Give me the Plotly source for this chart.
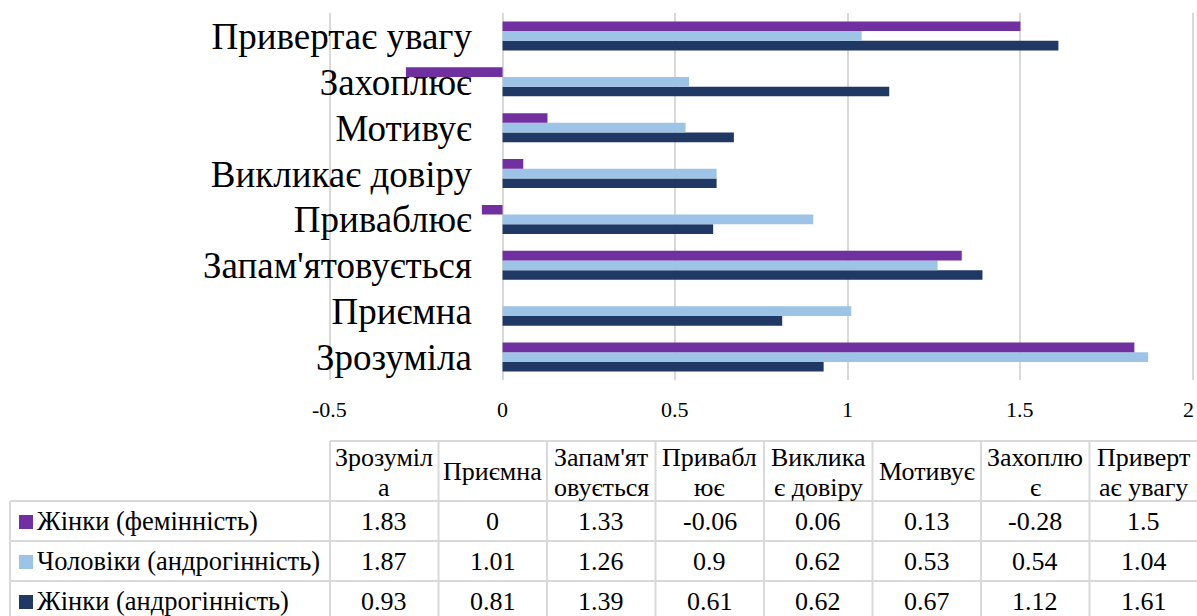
import plotly.graph_objects as go

# Categories, bottom to top on the chart (also the table's column order)
categories = ["Зрозуміла", "Приємна", "Запам'ятовується", "Приваблює",
              "Викликає довіру", "Мотивує", "Захоплює", "Привертає увагу"]
# Wrapped header texts for the data table
header_labels = ["Зрозуміл<br>а", "Приємна", "Запам'ят<br>овується", "Привабл<br>ює",
                 "Виклика<br>є довіру", "Мотивує", "Захоплю<br>є", "Приверт<br>ає увагу"]

women_fem = [1.83, 0, 1.33, -0.06, 0.06, 0.13, -0.28, 1.5]
men_andro = [1.87, 1.01, 1.26, 0.9, 0.62, 0.53, 0.54, 1.04]
women_andro = [0.93, 0.81, 1.39, 0.61, 0.62, 0.67, 1.12, 1.61]

series_names = ["Жінки (фемінність)", "Чоловіки (андрогінність)", "Жінки (андрогінність)"]
series_values = [women_fem, men_andro, women_andro]
series_colors = ["#7030A0", "#9DC3E6", "#203864"]

x_ticks = [-0.5, 0, 0.5, 1, 1.5, 2]
x_ticktext = ["-0.5", "0", "0.5", "1", "1.5", "2"]

W, H = 1197, 616
SERIF = "Liberation Serif"
GRID = "#D9D9D9"


def px(x):
    return x / W


def py(y):
    return 1 - y / H


fig = go.Figure()
# Plotly stacks horizontal groups bottom-up, so add the series in reverse
for name, vals, col in reversed(list(zip(series_names, series_values, series_colors))):
    fig.add_trace(go.Bar(
        y=categories, x=vals, name=name, orientation="h",
        marker=dict(color=col, line=dict(width=0)),
        showlegend=False,
    ))

# a small pad on both ends keeps the -0.5 and 2 gridlines visible
fig.update_layout(
    width=W, height=H,
    margin=dict(l=0, r=0, t=0, b=0, autoexpand=False),
    paper_bgcolor="white", plot_bgcolor="white",
    font=dict(family=SERIF),
    barmode="group", bargap=0.37, bargroupgap=0,
    xaxis=dict(
        domain=[px(326.5), px(1196.5)], range=[-0.51, 2.01],
        tickvals=x_ticks, showticklabels=False,
        showgrid=True, gridcolor=GRID, gridwidth=2,
        zeroline=False, showline=False, ticks="",
        automargin=False, fixedrange=True,
    ),
    yaxis=dict(
        domain=[py(380), py(13)],
        categoryorder="array", categoryarray=categories,
        anchor="free", position=px(472),
        showgrid=False, zeroline=False, showline=False, ticks="",
        tickfont=dict(family=SERIF, size=37, color="black"),
        automargin=False, fixedrange=True,
    ),
)

annotations = []
# value-axis labels, placed on the x scale; the last one is kept inside the page edge
for k, (tv, tt) in enumerate(zip(x_ticks, x_ticktext)):
    last = k == len(x_ticks) - 1
    annotations.append(dict(
        xref="x", yref="paper", x=tv, y=py(409), text=tt, showarrow=False,
        xanchor="right" if last else "center", xshift=3 if last else 0,
        yanchor="middle",
        font=dict(family=SERIF, size=22, color="black"),
    ))

# ---- data table below the chart ----
shapes = []
col_left = 330
col_w = 108.5
table_right = col_left + col_w * len(categories)
header_top, row_lines = 441, [501, 541, 581, 621]
line = dict(color=GRID, width=2)
TABLE_FONT = dict(family=SERIF, size=26, color="black")
NAME_FONT = dict(family=SERIF, size=26.5, color="black")

# horizontal rules
shapes.append(dict(type="line", xref="paper", yref="paper",
                   x0=px(col_left), x1=px(table_right), y0=py(header_top), y1=py(header_top), line=line))
for yl in row_lines[:-1]:
    shapes.append(dict(type="line", xref="paper", yref="paper",
                       x0=px(10), x1=px(table_right), y0=py(yl), y1=py(yl), line=line))
# vertical rules
shapes.append(dict(type="line", xref="paper", yref="paper",
                   x0=px(10), x1=px(10), y0=py(501), y1=py(621), line=line))
for k in range(len(categories) + 1):
    xv = col_left + col_w * k
    shapes.append(dict(type="line", xref="paper", yref="paper",
                       x0=px(xv), x1=px(xv), y0=py(header_top), y1=py(621), line=line))

# header cells: one or two tightly spaced lines
for i, lab in enumerate(header_labels):
    parts = lab.split("<br>")
    ys = [471] if len(parts) == 1 else [457, 487]
    for part, yl in zip(parts, ys):
        annotations.append(dict(
            xref="paper", yref="paper", x=px(col_left + col_w * (i + 0.5)), y=py(yl),
            text=part, showarrow=False, xanchor="center", yanchor="middle",
            font=TABLE_FONT,
        ))

# series rows: legend key, name and values
for r, (name, vals, col) in enumerate(zip(series_names, series_values, series_colors)):
    yc = (row_lines[r] + row_lines[r + 1]) / 2
    shapes.append(dict(type="rect", xref="paper", yref="paper",
                       x0=px(19), x1=px(33), y0=py(yc - 7 + 1), y1=py(yc + 7 + 1),
                       fillcolor=col, line=dict(width=0)))
    annotations.append(dict(
        xref="paper", yref="paper", x=px(35), y=py(yc),
        text=name, showarrow=False, xanchor="left", yanchor="middle",
        font=NAME_FONT,
    ))
    for i, v in enumerate(vals):
        annotations.append(dict(
            xref="paper", yref="paper", x=px(col_left + col_w * (i + 0.5)), y=py(yc),
            text=f"{v:g}", showarrow=False, xanchor="center", yanchor="middle",
            font=TABLE_FONT,
        ))

fig.update_layout(shapes=shapes, annotations=annotations)
fig.write_html("out.html")
